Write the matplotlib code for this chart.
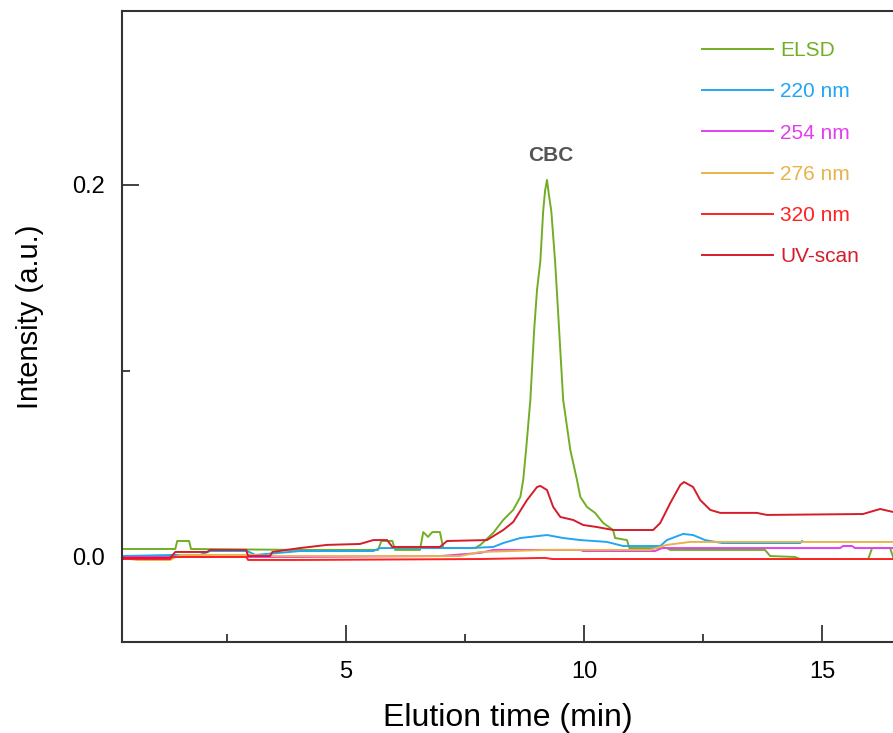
import numpy as np
import matplotlib
matplotlib.use('Agg')
import matplotlib.pyplot as plt
from matplotlib.ticker import MultipleLocator

plt.rcParams['font.family'] = ['Liberation Sans', 'DejaVu Sans']

# ELSD trace
t_elsd = [0.29, 1.41, 1.45, 1.70, 1.74, 4.03, 5.67, 5.74, 5.97, 6.03, 6.55, 6.62, 6.72, 6.81,
          6.97, 7.04, 7.71, 7.82, 8.09, 8.30, 8.51, 8.66, 8.72, 8.78, 8.87, 8.95, 9.01, 9.08,
          9.14, 9.18, 9.22, 9.26, 9.31, 9.39, 9.45, 9.56, 9.71, 9.85, 9.92, 10.06, 10.23, 10.40,
          10.61, 10.65, 10.90, 10.95, 11.74, 11.81, 13.80, 13.91, 14.43, 14.54, 15.97, 16.05,
          16.43, 16.49]
y_elsd = [0.0043, 0.0043, 0.0086, 0.0086, 0.0043, 0.0038, 0.0038, 0.0086, 0.0086, 0.0038,
          0.0038, 0.0134, 0.0108, 0.0134, 0.0134, 0.0048, 0.0048, 0.0065, 0.0129, 0.0199,
          0.0253, 0.0323, 0.0414, 0.0575, 0.0844, 0.122, 0.1435, 0.159, 0.186, 0.197, 0.2027,
          0.1946, 0.186, 0.159, 0.133, 0.0844, 0.0575, 0.0414, 0.0323, 0.0269, 0.0237, 0.0183,
          0.0145, 0.0102, 0.0091, 0.0048, 0.0048, 0.0038, 0.0038, 0.0005, 0.0, -0.0011,
          -0.0011, 0.0048, 0.0048, 0.0]

# 220 nm
t_220 = [0.29, 1.37, 1.93, 2.14, 2.92, 3.09, 4.03, 5.57, 5.71, 7.61, 8.09, 8.30, 8.66, 9.22,
         9.56, 9.92, 10.48, 10.82, 11.60, 11.74, 12.08, 12.29, 12.54, 12.90, 14.54, 14.58]
y_220 = [0.0005, 0.0011, 0.0011, 0.0032, 0.0032, 0.0011, 0.0032, 0.0032, 0.0048, 0.0048,
         0.0054, 0.0075, 0.0102, 0.0118, 0.0102, 0.0091, 0.0081, 0.0059, 0.0059, 0.0091,
         0.0124, 0.0118, 0.0091, 0.0075, 0.0075, 0.0086]

# 254 nm
t_254 = [0.29, 1.58, 4.03, 6.97, 7.82, 8.09, 9.92, 9.98, 11.49, 11.64, 15.38, 15.44, 15.63,
         15.69, 16.49]
y_254 = [0.0, 0.0, 0.0, 0.0005, 0.0022, 0.0038, 0.0038, 0.0032, 0.0032, 0.0048, 0.0048,
         0.0059, 0.0059, 0.0048, 0.0048]

# 276 nm
t_276 = [0.29, 0.61, 1.30, 1.51, 2.98, 3.47, 7.39, 7.82, 9.22, 11.39, 11.74, 12.23, 16.49]
y_276 = [-0.0005, -0.0016, -0.0016, 0.0011, 0.0011, 0.0005, 0.0005, 0.0027, 0.0038, 0.0038,
         0.0065, 0.0081, 0.0081]

# 320 nm
t_320 = [0.29, 1.30, 1.34, 2.90, 2.94, 4.03, 7.82, 9.18, 9.33, 16.49]
y_320 = [-0.0011, -0.0011, 0.0, 0.0, -0.0016, -0.0016, -0.0011, -0.0005, -0.0011, -0.0011]

# UV-scan
t_uv = [0.29, 1.30, 1.41, 2.08, 2.14, 2.90, 2.94, 3.40, 3.45, 4.03, 4.60, 5.29, 5.57, 5.86,
        5.97, 6.97, 7.12, 7.96, 8.30, 8.51, 8.80, 9.01, 9.08, 9.22, 9.35, 9.50, 9.77, 9.98,
        10.27, 10.61, 11.45, 11.60, 11.81, 12.02, 12.10, 12.29, 12.44, 12.65, 12.86, 13.63,
        13.84, 15.86, 16.22, 16.49]
y_uv = [-0.0005, -0.0005, 0.0027, 0.0027, 0.0038, 0.0038, 0.0005, 0.0005, 0.0027, 0.0048,
        0.0065, 0.007, 0.0091, 0.0091, 0.0054, 0.0054, 0.0086, 0.0091, 0.0145, 0.0188, 0.0306,
        0.0376, 0.0382, 0.036, 0.0269, 0.0215, 0.0199, 0.0172, 0.0161, 0.0145, 0.0145, 0.0183,
        0.029, 0.0387, 0.0403, 0.0376, 0.0306, 0.0253, 0.0237, 0.0237, 0.0226, 0.0231, 0.0258,
        0.0242]

series = [
    ('ELSD', t_elsd, y_elsd, '#72ae25'),
    ('220 nm', t_220, y_220, '#22a6f2'),
    ('254 nm', t_254, y_254, '#e23ff0'),
    ('276 nm', t_276, y_276, '#e8b34a'),
    ('320 nm', t_320, y_320, '#ff2222'),
    ('UV-scan', t_uv, y_uv, '#d61c2a'),
]

fig = plt.figure(figsize=(8.93, 7.33), dpi=100)
ax = fig.add_axes([122 / 893, 1 - 642 / 733, 1 - 122 / 893, (642 - 11) / 733])

for name, t, y, c in series:
    ax.plot(t, y, color=c, lw=1.4, label=name)

ax.set_xlim(0.29, 16.49)
ax.set_ylim(-0.0457, 0.2935)

ax.xaxis.set_major_locator(MultipleLocator(5))
ax.xaxis.set_minor_locator(MultipleLocator(2.5))
ax.yaxis.set_major_locator(MultipleLocator(0.2))
ax.yaxis.set_minor_locator(MultipleLocator(0.1))
ax.tick_params(which='both', direction='in', labelsize=17, width=1.2, color='#222222')
ax.tick_params(which='major', length=12)
ax.tick_params(which='minor', length=6)
ax.tick_params(axis='y', pad=12)
ax.tick_params(axis='x', pad=14)

for s in ['left', 'bottom', 'top']:
    ax.spines[s].set_linewidth(1.5)
    ax.spines[s].set_color('#333333')
ax.spines['right'].set_visible(False)

ax.set_xlabel('Elution time (min)', fontsize=23, labelpad=14)
ax.set_ylabel('Intensity (a.u.)', fontsize=21)
ax.yaxis.set_label_coords(-0.101, 0.516)

ax.text(9.29, 0.216, 'CBC', fontsize=15, fontweight='bold', color='#555555',
        ha='center', va='center')

leg = ax.legend(loc='upper left', bbox_to_anchor=(702 / 893, 1 - 41 / 733),
                bbox_transform=fig.transFigure, frameon=False, fontsize=15,
                handlelength=3.4, handletextpad=0.35, labelspacing=1.07,
                borderpad=0, borderaxespad=0, labelcolor='linecolor')

fig.savefig('out.png', dpi=100)
